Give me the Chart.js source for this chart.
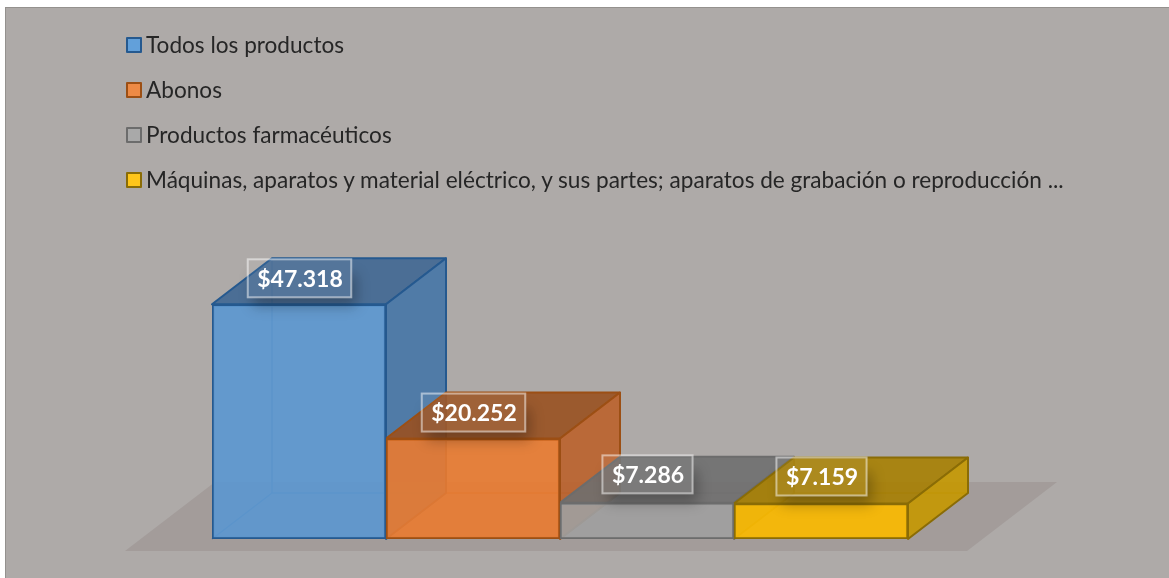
<!DOCTYPE html>
<html lang="es">
<head>
<meta charset="utf-8">
<title>Productos</title>
<script src="https://cdn.jsdelivr.net/npm/chart.js@4"></script>
<style>
  html, body { margin: 0; padding: 0; background: #fff; width: 1169px; height: 578px; overflow: hidden; }
  #panel { position: absolute; left: 5px; top: 7px; width: 1164px; height: 571px; background: #aeaaa8;
           border-left: 1px solid #94918e; border-top: 1px solid #94918e; box-sizing: border-box; }
  #chart { position: absolute; left: 0; top: 0; filter: blur(0.4px); }
  #legend { position: absolute; left: 127px; top: 23px; font-family: Lato, sans-serif; font-size: 22.6px; color: #262626; filter: blur(0.3px); }
  .item { height: 45px; line-height: 44px; white-space: nowrap; position: relative; padding-left: 19px; }
  .swatch { position: absolute; left: -1px; top: 14px; width: 16px; height: 16px; box-sizing: border-box; border: 2px solid; border-radius: 1px; }
</style>
</head>
<body>
<div id="panel"></div>
<canvas id="chart" width="1169" height="578"></canvas>
<div id="legend"></div>
<script>
const categories = [
  "Todos los productos",
  "Abonos",
  "Productos farmacéuticos",
  "Máquinas, aparatos y material eléctrico, y sus partes; aparatos de grabación o reproducción ..."
];
const values = [47318, 20252, 7286, 7159];
const tickLabels = ["$47.318", "$20.252", "$7.286", "$7.159"];
const frontColors = ["rgba(91,151,208,0.9)", "rgba(234,123,48,0.9)", "rgba(160,160,160,0.9)", "rgba(250,186,0,0.92)"];
const topColors = ["rgba(64,103,146,0.9)", "rgba(153,81,32,0.9)", "rgba(111,111,111,0.9)", "rgba(167,128,2,0.9)"];
const sideColors = ["rgba(70,117,166,0.9)", "rgba(187,98,43,0.9)", "rgba(130,130,130,0.9)", "rgba(197,152,0,0.9)"];
const edgeColors = ["#25598f", "#9c4f14", "#6c6c6c", "#8a6c06"];
const legendColors = ["#62a0da", "#ed8a45", "#a9a9a9", "#ffc61a"];
const labelShiftY = [-26, -26, -28.5, -27];

const DEPTH_X = 60, DEPTH_Y = 46;

function poly(ctx, pts, fill, stroke) {
  ctx.beginPath();
  pts.forEach((p, i) => i ? ctx.lineTo(p[0], p[1]) : ctx.moveTo(p[0], p[1]));
  ctx.closePath();
  if (fill) { ctx.fillStyle = fill; ctx.fill(); }
  if (stroke) { ctx.strokeStyle = stroke; ctx.lineWidth = 2; ctx.lineJoin = "round"; ctx.stroke(); }
}

const box3d = {
  id: "box3d",
  beforeDatasetsDraw(chart) {
    const ctx = chart.ctx;
    const area = chart.chartArea;
    const base = chart.scales.y.getPixelForValue(0);
    ctx.save();
    // floor, tied to the plot area
    poly(ctx, [
      [area.left - 87, base + 12],
      [area.right + 59, base + 12],
      [area.right + 149, base - 57],
      [area.left + 3, base - 57]
    ], "#a39c9a");
    chart.getDatasetMeta(0).data.forEach((bar, i) => {
      const x0 = bar.x - bar.width / 2, x1 = bar.x + bar.width / 2, top = bar.y;
      // inner back edges, seen through the translucent front
      ctx.globalAlpha = 0.55;
      ctx.strokeStyle = edgeColors[i];
      ctx.lineWidth = 1.5;
      ctx.beginPath();
      ctx.moveTo(x0, base); ctx.lineTo(x0 + DEPTH_X, base - DEPTH_Y);
      ctx.lineTo(x0 + DEPTH_X, top - DEPTH_Y);
      ctx.moveTo(x0 + DEPTH_X, base - DEPTH_Y); ctx.lineTo(x1 + DEPTH_X, base - DEPTH_Y);
      ctx.stroke();
      ctx.globalAlpha = 1;
      // top and side faces
      poly(ctx, [[x0, top], [x1, top], [x1 + DEPTH_X, top - DEPTH_Y], [x0 + DEPTH_X, top - DEPTH_Y]], topColors[i], edgeColors[i]);
      poly(ctx, [[x1, top], [x1 + DEPTH_X, top - DEPTH_Y], [x1 + DEPTH_X, base - DEPTH_Y], [x1, base]], sideColors[i], edgeColors[i]);
    });
    ctx.restore();
  },
  afterDatasetsDraw(chart) {
    const ctx = chart.ctx;
    ctx.save();
    ctx.font = "700 23px Lato, sans-serif";
    ctx.textAlign = "center";
    ctx.textBaseline = "middle";
    chart.getDatasetMeta(0).data.forEach((bar, i) => {
      const text = tickLabels[i];
      const w = ctx.measureText(text).width + 18, h = 38;
      const cx = bar.x + 0.5, cy = bar.y + labelShiftY[i];
      const x = cx - w / 2, y = cy - h / 2;
      // soft shadow outside the box only (its rectangle is off-canvas)
      ctx.save();
      ctx.beginPath();
      ctx.rect(0, 0, chart.width, chart.height);
      ctx.rect(x, y, w, h);
      ctx.clip("evenodd");
      ctx.shadowColor = "rgba(0,0,0,0.28)";
      ctx.shadowBlur = 14;
      ctx.shadowOffsetX = 3000 + 5;
      ctx.shadowOffsetY = 9;
      ctx.fillStyle = "#000";
      ctx.fillRect(x - 3000, y + 6, w, h - 6);
      ctx.restore();
      ctx.fillStyle = "rgba(255,255,255,0.05)";
      ctx.fillRect(x, y, w, h);
      ctx.strokeStyle = "rgba(255,255,255,0.5)";
      ctx.lineWidth = 2;
      ctx.strokeRect(x, y, w, h);
      ctx.fillStyle = "#fff";
      ctx.fillText(text, cx + 0.5, cy + 1);
    });
    ctx.restore();
  }
};

new Chart(document.getElementById("chart"), {
  type: "bar",
  data: {
    labels: categories,
    datasets: [{
      label: "Valor",
      data: values,
      backgroundColor: frontColors,
      borderColor: edgeColors,
      borderWidth: 2,
      borderSkipped: false,
      barPercentage: 1,
      categoryPercentage: 1
    }]
  },
  options: {
    responsive: false,
    animation: false,
    layout: { padding: { left: 212, right: 261, top: 291, bottom: 39 } },
    plugins: { legend: { display: false }, tooltip: { enabled: false } },
    scales: {
      x: { display: false },
      y: { display: false, min: 0, max: 50000 }
    }
  },
  plugins: [box3d]
});

const legend = document.getElementById("legend");
categories.forEach((name, i) => {
  const item = document.createElement("div");
  item.className = "item";
  const sw = document.createElement("span");
  sw.className = "swatch";
  sw.style.background = legendColors[i];
  sw.style.borderColor = edgeColors[i];
  item.appendChild(sw);
  item.appendChild(document.createTextNode(name));
  legend.appendChild(item);
});
</script>
</body>
</html>
